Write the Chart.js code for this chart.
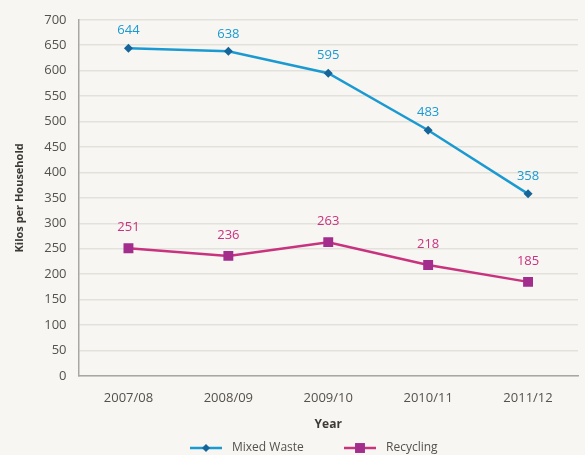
<!DOCTYPE html>
<html>
<head>
<meta charset="utf-8">
<script src="https://cdn.jsdelivr.net/npm/chart.js@4.4.0/dist/chart.umd.min.js"></script>
<style>
  html, body { margin: 0; padding: 0; background: #f7f6f2; }
  #wrap { width: 585px; height: 455px; }
</style>
</head>
<body>
<div id="wrap"><canvas id="chart"></canvas></div>
<script>
const years = ['2007/08', '2008/09', '2009/10', '2010/11', '2011/12']
const mixedWaste = [644, 638, 595, 483, 358]
const recycling = [251, 236, 263, 218, 185]

const blue = '#1b9ad2'
const pink = '#c8327f'
const textColor = '#55514c'
const font = 'Open Sans'

// value labels above points + legend at the bottom
const extras = {
  id: 'extras',
  afterDatasetsDraw(chart) {
    const ctx = chart.ctx
    ctx.save()
    ctx.font = '13px "' + font + '"'
    ctx.textAlign = 'center'
    ctx.textBaseline = 'bottom'
    chart.data.datasets.forEach((ds, i) => {
      const gap = i === 0 ? 11 : 14
      chart.getDatasetMeta(i).data.forEach((pt, j) => {
        ctx.fillStyle = ds.borderColor
        ctx.fillText(ds.data[j], pt.x, pt.y - gap)
      })
    })

    // legend
    const y = 448
    const items = [
      { x: 190, label: 'Mixed Waste', color: blue, dot: '#16659a', style: 'rectRot', r: 4 },
      { x: 344, label: 'Recycling', color: pink, dot: '#a22d8c', style: 'rect', r: 7 }
    ]
    items.forEach(it => {
      ctx.strokeStyle = it.color
      ctx.lineWidth = 2.5
      ctx.beginPath()
      ctx.moveTo(it.x, y)
      ctx.lineTo(it.x + 32, y)
      ctx.stroke()
      ctx.fillStyle = it.dot
      Chart.helpers.drawPoint(ctx, { pointStyle: it.style, radius: it.r, borderWidth: 0 }, it.x + 16, y)
      ctx.fillStyle = textColor
      ctx.textAlign = 'left'
      ctx.textBaseline = 'middle'
      ctx.font = '12px "' + font + '"'
      ctx.fillText(it.label, it.x + 42, y)
    })
    ctx.restore()
  }
}

new Chart(document.getElementById('chart'), {
  type: 'line',
  data: {
    labels: years,
    datasets: [
      {
        label: 'Mixed Waste',
        data: mixedWaste,
        borderColor: blue,
        backgroundColor: '#16659a',
        borderWidth: 2.5,
        pointStyle: 'rectRot',
        pointRadius: 4.5,
        pointBorderWidth: 0,
        tension: 0
      },
      {
        label: 'Recycling',
        data: recycling,
        borderColor: pink,
        backgroundColor: '#a22d8c',
        borderWidth: 2.5,
        pointStyle: 'rect',
        pointRadius: 7,
        pointBorderWidth: 0,
        tension: 0
      }
    ]
  },
  options: {
    responsive: true,
    maintainAspectRatio: false,
    animation: false,
    layout: { padding: { top: 0, right: 0, bottom: 19, left: 9 } },
    plugins: {
      legend: { display: false },
      tooltip: { enabled: false }
    },
    scales: {
      x: {
        offset: true,
        grid: { display: false, drawTicks: false },
        border: { color: '#a9a7a3', width: 1.5 },
        ticks: { color: textColor, font: { family: font, size: 13 }, padding: 14 },
        title: { display: true, text: 'Year', color: '#3d3a36', font: { family: font, size: 12, weight: 'bold' }, padding: { top: -2, bottom: 4 } }
      },
      y: {
        min: 0,
        max: 700,
        ticks: { stepSize: 50, color: textColor, font: { family: font, size: 13 }, padding: 12 },
        grid: { color: '#e3e1dc', lineWidth: 1.5, drawTicks: false },
        border: { color: '#a9a7a3', width: 1.5 },
        title: { display: true, text: 'Kilos per Household', color: '#3d3a36', font: { family: font, size: 11, weight: 'bold' }, padding: { bottom: 6 } }
      }
    }
  },
  plugins: [extras]
})
</script>
</body>
</html>
